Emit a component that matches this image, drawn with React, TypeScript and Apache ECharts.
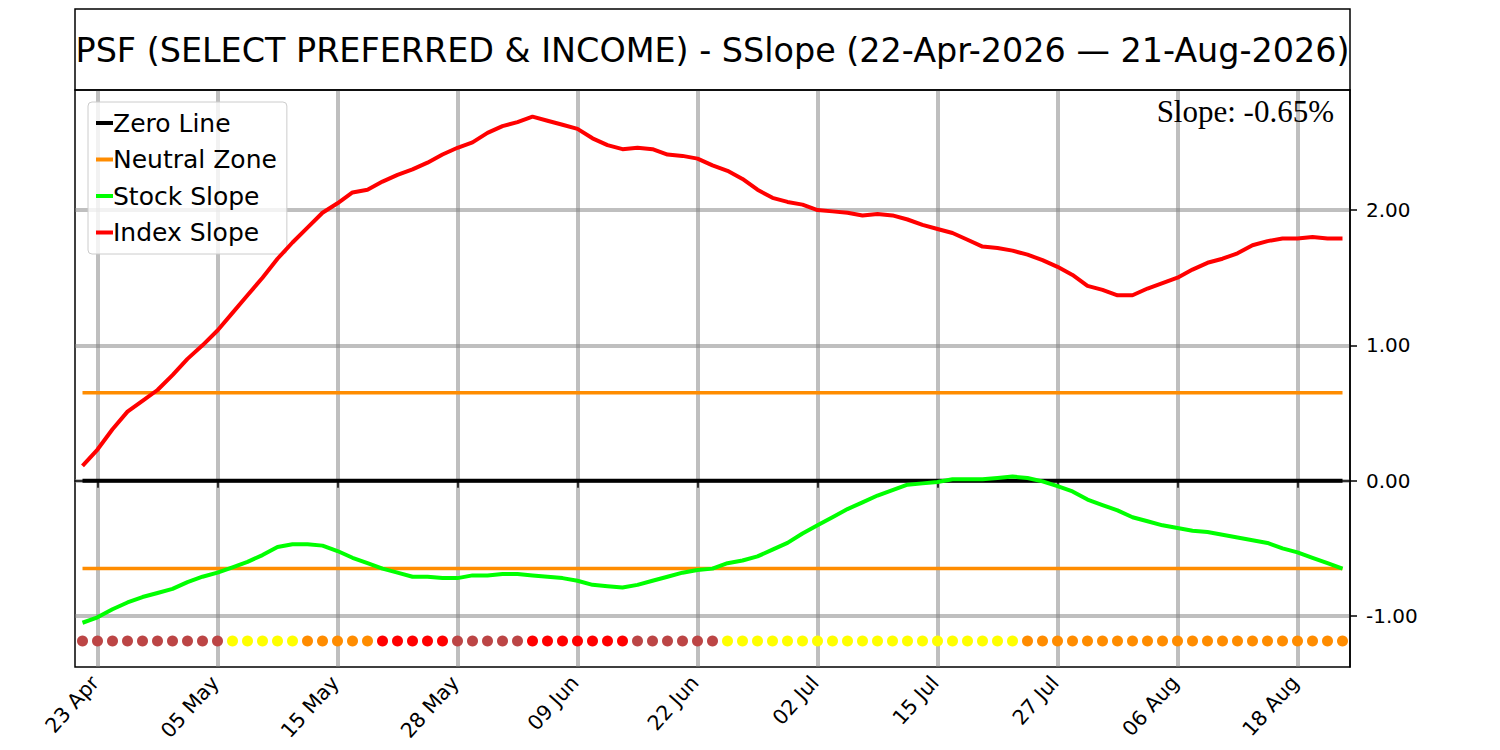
import React, { useEffect, useRef } from 'react';
import * as echarts from 'echarts';

// Trading days, 22 Apr 2026 — 21 Aug 2026
const dates = [
  '22 Apr', '23 Apr', '24 Apr', '27 Apr', '28 Apr', '29 Apr', '30 Apr',
  '01 May', '04 May', '05 May', '06 May', '07 May', '08 May', '11 May', '12 May', '13 May', '14 May', '15 May',
  '18 May', '19 May', '20 May', '21 May', '22 May', '26 May', '27 May', '28 May', '29 May',
  '01 Jun', '02 Jun', '03 Jun', '04 Jun', '05 Jun', '08 Jun', '09 Jun', '10 Jun', '11 Jun', '12 Jun',
  '15 Jun', '16 Jun', '17 Jun', '18 Jun', '22 Jun', '23 Jun', '24 Jun', '25 Jun', '26 Jun', '29 Jun', '30 Jun',
  '01 Jul', '02 Jul', '06 Jul', '07 Jul', '08 Jul', '09 Jul', '10 Jul', '13 Jul', '14 Jul', '15 Jul',
  '16 Jul', '17 Jul', '20 Jul', '21 Jul', '22 Jul', '23 Jul', '24 Jul', '27 Jul', '28 Jul', '29 Jul', '30 Jul', '31 Jul',
  '03 Aug', '04 Aug', '05 Aug', '06 Aug', '07 Aug', '10 Aug', '11 Aug', '12 Aug', '13 Aug', '14 Aug',
  '17 Aug', '18 Aug', '19 Aug', '20 Aug', '21 Aug',
];

const indexSlope = [
  0.11, 0.23, 0.38, 0.51, 0.59, 0.67, 0.78, 0.90, 1.00, 1.11,
  1.24, 1.37, 1.50, 1.64, 1.76, 1.87, 1.98, 2.05, 2.13, 2.15,
  2.21, 2.26, 2.30, 2.35, 2.41, 2.46, 2.50, 2.57, 2.62, 2.65,
  2.69, 2.66, 2.63, 2.60, 2.53, 2.48, 2.45, 2.46, 2.45, 2.41,
  2.40, 2.38, 2.33, 2.29, 2.23, 2.15, 2.09, 2.06, 2.04, 2.00,
  1.99, 1.98, 1.96, 1.97, 1.96, 1.93, 1.89, 1.86, 1.83, 1.78,
  1.73, 1.72, 1.70, 1.67, 1.63, 1.58, 1.52, 1.44, 1.41, 1.37,
  1.37, 1.42, 1.46, 1.50, 1.56, 1.61, 1.64, 1.68, 1.74, 1.77,
  1.79, 1.79, 1.80, 1.79, 1.79,
];

const stockSlope = [
  -1.05, -1.01, -0.95, -0.90, -0.86, -0.83, -0.80, -0.75, -0.71, -0.68,
  -0.64, -0.60, -0.55, -0.49, -0.47, -0.47, -0.48, -0.52, -0.57, -0.61,
  -0.65, -0.68, -0.71, -0.71, -0.72, -0.72, -0.70, -0.70, -0.69, -0.69,
  -0.70, -0.71, -0.72, -0.74, -0.77, -0.78, -0.79, -0.77, -0.74, -0.71,
  -0.68, -0.66, -0.65, -0.61, -0.59, -0.56, -0.51, -0.46, -0.39, -0.33,
  -0.27, -0.21, -0.16, -0.11, -0.07, -0.03, -0.02, -0.01, 0.01, 0.01,
  0.01, 0.02, 0.03, 0.02, -0.005, -0.04, -0.08, -0.14, -0.18, -0.22,
  -0.27, -0.30, -0.33, -0.35, -0.37, -0.38, -0.40, -0.42, -0.44, -0.46,
  -0.50, -0.53, -0.57, -0.61, -0.65,
];

// Signal state per trading day: B = brown, Y = yellow, O = orange, R = red
const signalStates = [
  'B', 'B', 'B', 'B', 'B', 'B', 'B', 'B', 'B', 'B',
  'Y', 'Y', 'Y', 'Y', 'Y',
  'O', 'O', 'O', 'O', 'O',
  'R', 'R', 'R', 'R', 'R',
  'B', 'B', 'B', 'B', 'B',
  'R', 'R', 'R', 'R', 'R', 'R', 'R',
  'B', 'B', 'B', 'B', 'B', 'B',
  'Y', 'Y', 'Y', 'Y', 'Y', 'Y', 'Y', 'Y', 'Y', 'Y', 'Y', 'Y', 'Y', 'Y', 'Y', 'Y', 'Y', 'Y', 'Y', 'Y',
  'O', 'O', 'O', 'O', 'O', 'O', 'O', 'O', 'O', 'O', 'O', 'O', 'O', 'O', 'O', 'O', 'O', 'O', 'O', 'O', 'O', 'O',
];

const ZERO_LEVEL = 0;
const NEUTRAL_LEVEL = 0.65;
const SIGNAL_LEVEL = -1.185;
const yTickValues = [-1, 0, 1, 2];
const Y_MIN = -1.377;
const Y_MAX = 2.887;
const X_TICK_EVERY = 8;
const X_TICK_OFFSET = 1;

const TITLE = 'PSF (SELECT PREFERRED & INCOME) - SSlope (22-Apr-2026 \u2014 21-Aug-2026)';
const SLOPE_TEXT = 'Slope: -0.65%';

const stateColors: Record<string, string> = {
  B: '#BC4545',
  Y: '#FFFF00',
  O: '#FF8C00',
  R: '#FF0000',
};

const GRID_COLOR = 'rgba(128,128,128,0.5)';
const SANS = 'DejaVu Sans';

export default function App() {
  const ref = useRef<HTMLDivElement>(null);

  useEffect(() => {
    if (!ref.current) return;
    const chart = echarts.init(ref.current, null, { renderer: 'svg' });
    const tickFn = (index: number) => index % X_TICK_EVERY === X_TICK_OFFSET;

    const option: any = {
      animation: false,
      backgroundColor: '#ffffff',
      grid: {
        left: 75,
        top: 90,
        width: 1275,
        height: 577,
        show: true,
        borderColor: '#000',
        borderWidth: 1.5,
        backgroundColor: 'transparent',
      },
      legend: {
        data: ['Zero Line', 'Neutral Zone', 'Stock Slope', 'Index Slope'],
        orient: 'vertical',
        left: 88,
        top: 102,
        icon: 'rect',
        itemWidth: 17,
        itemHeight: 4,
        itemGap: 11.5,
        padding: [8.5, 10, 9, 8],
        borderColor: '#cccccc',
        borderWidth: 1,
        borderRadius: 4,
        backgroundColor: 'rgba(255,255,255,0.8)',
        selectedMode: false,
        textStyle: {
          fontSize: 25,
          fontFamily: SANS,
          color: '#000',
          padding: [0, 0, 0, -5],
        },
      },
      xAxis: {
        type: 'category',
        data: dates,
        boundaryGap: true,
        axisLine: { show: true, lineStyle: { color: '#000', width: 1.5 } },
        axisTick: {
          show: true,
          interval: tickFn,
          alignWithLabel: true,
          length: 7,
          lineStyle: { color: '#000', width: 1.5 },
        },
        axisLabel: {
          interval: tickFn,
          rotate: 48,
          fontSize: 20.5,
          fontFamily: SANS,
          color: '#000',
          margin: 9,
          padding: [0, 4, 0, 0],
        },
        splitLine: {
          show: true,
          interval: tickFn,
          alignWithLabel: true,
          lineStyle: { color: GRID_COLOR, width: 4 },
        },
      },
      yAxis: {
        type: 'value',
        position: 'right',
        min: Y_MIN,
        max: Y_MAX,
        axisLine: { show: true, lineStyle: { color: '#000', width: 1.5 } },
        axisTick: {
          show: true,
          customValues: yTickValues,
          length: 7,
          lineStyle: { color: '#000', width: 1.5 },
        },
        axisLabel: {
          customValues: yTickValues,
          formatter: (v: number) => v.toFixed(2),
          fontSize: 20,
          fontFamily: SANS,
          color: '#000',
          margin: 16,
        },
        splitLine: { show: true, lineStyle: { color: GRID_COLOR, width: 4 } },
      },
      graphic: [
        {
          type: 'rect',
          shape: { x: 75, y: 9, width: 1275, height: 81 },
          style: { fill: 'none', stroke: '#000', lineWidth: 1.5 },
          z: 100,
        },
        {
          type: 'text',
          x: 712.5,
          y: 50,
          style: {
            text: TITLE,
            fontSize: 33.4,
            fontFamily: SANS,
            fill: '#000',
            align: 'center',
            verticalAlign: 'middle',
          },
          z: 100,
        },
        {
          type: 'text',
          x: 1334,
          y: 96,
          style: {
            text: SLOPE_TEXT,
            fontSize: 31,
            fontFamily: 'Liberation Serif',
            fill: '#000',
            align: 'right',
            verticalAlign: 'top',
          },
          z: 100,
        },
      ],
      series: [
        {
          name: 'Zero Line',
          type: 'line',
          data: dates.map(() => ZERO_LEVEL),
          color: '#000000',
          showSymbol: false,
          lineStyle: { color: '#000000', width: 4 },
          z: 3,
        },
        {
          name: 'Neutral Zone',
          type: 'line',
          data: dates.map(() => NEUTRAL_LEVEL),
          color: '#FF8C00',
          showSymbol: false,
          lineStyle: { color: '#FF8C00', width: 3.5 },
          z: 4,
        },
        {
          name: 'Neutral Zone',
          type: 'line',
          data: dates.map(() => -NEUTRAL_LEVEL),
          color: '#FF8C00',
          showSymbol: false,
          lineStyle: { color: '#FF8C00', width: 3.5 },
          z: 4,
        },
        {
          name: 'Stock Slope',
          type: 'line',
          data: stockSlope,
          color: '#00FF00',
          showSymbol: false,
          lineStyle: { color: '#00FF00', width: 4 },
          z: 5,
        },
        {
          name: 'Index Slope',
          type: 'line',
          data: indexSlope,
          color: '#FF0000',
          showSymbol: false,
          lineStyle: { color: '#FF0000', width: 4 },
          z: 6,
        },
        {
          name: 'Signals',
          type: 'scatter',
          data: signalStates.map((s) => ({
            value: SIGNAL_LEVEL,
            itemStyle: { color: stateColors[s], opacity: 1 },
          })),
          symbol: 'circle',
          symbolSize: 11,
          itemStyle: { opacity: 1 },
          z: 7,
        },
      ],
    };

    chart.setOption(option);
    return () => chart.dispose();
  }, []);

  return (
    <div
      ref={ref}
      style={{ position: 'absolute', left: 0, top: 0, width: 1500, height: 750 }}
    />
  );
}
